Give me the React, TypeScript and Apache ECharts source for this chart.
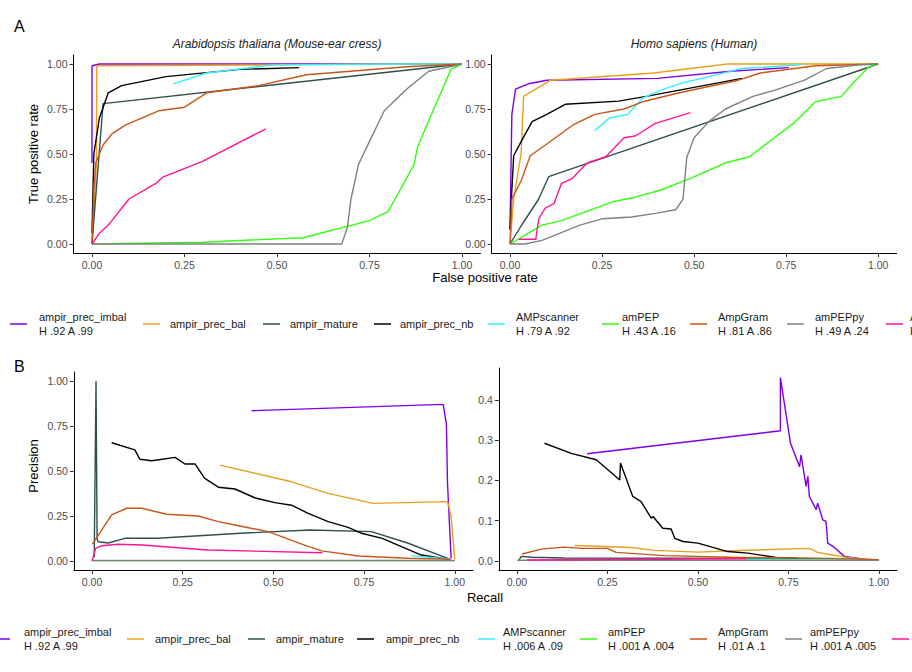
import React, { useEffect, useRef } from "react";
import * as echarts from "echarts";

const methods = ["ampir_prec_imbal", "ampir_prec_bal", "ampir_mature", "ampir_prec_nb", "AMPscanner", "amPEP", "AmpGram", "amPEPpy", "AMPlify"];
const colors = ["#7f00e6", "#e8a020", "#2f4f4f", "#000000", "#33f0ff", "#33ff10", "#c8561a", "#808080", "#ff1493"];
const rocLegendSub = ["H .92 A .99", "", "", "", "H .79 A .92", "H .43 A .16", "H .81 A .86", "H .49 A .24", "H .66 A .53"];
const prLegendSub = ["H .92 A .99", "", "", "", "H .006 A .09", "H .001 A .004", "H .01 A .1", "H .001 A .005", "H .002 A .05"];

// ROC Arabidopsis [fpr, tpr]
const rocA: number[][][] = [
  [[0, 0.45], [0, 0.99], [0.02, 1], [0.5, 1], [1, 1]],
  [[0, 0], [0.012, 0.45], [0.013, 0.99], [0.5, 0.995], [0.9, 1], [1, 1]],
  [[0, 0], [0.03, 0.78], [1, 1]],
  [[0, 0.06], [0.005, 0.5], [0.02, 0.7], [0.044, 0.84], [0.08, 0.88], [0.2, 0.93], [0.4, 0.97], [0.56, 0.98]],
  [[0.22, 0.89], [0.31, 0.95], [0.49, 0.995], [0.85, 1], [1, 1]],
  [[0, 0], [0.3, 0.01], [0.57, 0.035], [0.75, 0.13], [0.8, 0.18], [0.83, 0.29], [0.87, 0.44], [0.88, 0.54], [0.97, 0.97], [1, 1]],
  [[0, 0], [0.005, 0.3], [0.01, 0.45], [0.03, 0.55], [0.053, 0.61], [0.09, 0.66], [0.18, 0.74], [0.25, 0.76], [0.31, 0.84], [0.45, 0.88], [0.58, 0.94], [0.85, 0.985], [1, 1]],
  [[0, 0], [0.675, 0.0], [0.69, 0.09], [0.7, 0.25], [0.72, 0.44], [0.75, 0.57], [0.79, 0.74], [0.85, 0.86], [0.91, 0.96], [0.98, 0.99], [1, 1]],
  [[0, 0], [0.02, 0.06], [0.044, 0.105], [0.1, 0.25], [0.175, 0.34], [0.19, 0.37], [0.3, 0.46], [0.47, 0.64]],
];

// ROC Homo sapiens
const rocH: number[][][] = [
  [[0, 0.08], [0.005, 0.72], [0.015, 0.86], [0.05, 0.89], [0.1, 0.91], [0.4, 0.92], [0.6, 0.96], [0.757, 0.98]],
  [[0, 0], [0.01, 0.25], [0.03, 0.5], [0.037, 0.82], [0.11, 0.91], [0.39, 0.95], [0.59, 1.0], [1, 1]],
  [[0, 0], [0.03, 0.1], [0.078, 0.25], [0.105, 0.374], [1, 1]],
  [[0, 0.08], [0.005, 0.3], [0.01, 0.49], [0.033, 0.58], [0.06, 0.68], [0.1, 0.72], [0.15, 0.776], [0.295, 0.794], [0.37, 0.82], [0.63, 0.92]],
  [[0.23, 0.63], [0.27, 0.7], [0.32, 0.72], [0.36, 0.81], [0.41, 0.855], [0.46, 0.89], [0.54, 0.93], [0.63, 0.975], [0.79, 0.995]],
  [[0, 0], [0.033, 0.04], [0.087, 0.105], [0.14, 0.13], [0.28, 0.235], [0.34, 0.26], [0.41, 0.3], [0.49, 0.365], [0.585, 0.45], [0.65, 0.485], [0.77, 0.67], [0.83, 0.79], [0.9, 0.82], [0.93, 0.89], [0.975, 0.985], [1, 1]],
  [[0, 0], [0.005, 0.25], [0.03, 0.35], [0.055, 0.49], [0.096, 0.55], [0.17, 0.66], [0.23, 0.72], [0.31, 0.75], [0.36, 0.79], [0.46, 0.84], [0.62, 0.91], [0.68, 0.95], [0.83, 0.99], [1, 1]],
  [[0, 0], [0.04, 0], [0.087, 0.02], [0.19, 0.105], [0.25, 0.14], [0.33, 0.15], [0.395, 0.17], [0.45, 0.19], [0.47, 0.25], [0.48, 0.48], [0.5, 0.59], [0.54, 0.68], [0.585, 0.75], [0.66, 0.82], [0.72, 0.855], [0.8, 0.91], [0.86, 0.975], [0.95, 0.995], [1, 1]],
  [[0.024, 0.026], [0.07, 0.026], [0.078, 0.14], [0.096, 0.2], [0.12, 0.226], [0.14, 0.337], [0.17, 0.365], [0.19, 0.41], [0.21, 0.45], [0.26, 0.485], [0.31, 0.59], [0.34, 0.6], [0.395, 0.67], [0.49, 0.73]],
];

// Precision-recall Arabidopsis [recall, precision]
const prA: number[][][] = [
  [[0.44, 0.835], [0.968, 0.87], [0.977, 0.76], [0.98, 0.43], [0.99, 0.015]],
  [[0.353, 0.533], [0.55, 0.44], [0.65, 0.376], [0.775, 0.32], [0.98, 0.33], [0.99, 0.25], [1, 0.01]],
  [[0.006, 0.02], [0.011, 1.0], [0.014, 0.12], [0.017, 0.107], [0.045, 0.1], [0.09, 0.126], [0.18, 0.126], [0.41, 0.154], [0.6, 0.172], [0.77, 0.163], [0.87, 0.1], [0.986, 0.01]],
  [[0.054, 0.657], [0.118, 0.617], [0.132, 0.565], [0.165, 0.557], [0.229, 0.576], [0.256, 0.539], [0.284, 0.539], [0.31, 0.46], [0.348, 0.41], [0.394, 0.4], [0.45, 0.35], [0.504, 0.324], [0.55, 0.31], [0.596, 0.265], [0.651, 0.219], [0.706, 0.187], [0.743, 0.154], [0.8, 0.126], [0.853, 0.08], [0.908, 0.033], [0.98, 0.01]],
  [[0.88, 0.03], [0.99, 0.01]],
  [[0, 0.002], [1, 0.002]],
  [[0.001, 0.094], [0.054, 0.256], [0.095, 0.293], [0.137, 0.293], [0.206, 0.26], [0.293, 0.25], [0.348, 0.219], [0.394, 0.2], [0.486, 0.163], [0.578, 0.094], [0.633, 0.056], [0.734, 0.028], [0.87, 0.015], [0.99, 0.01]],
  [[0, 0.003], [1, 0.003]],
  [[0, 0], [0.01, 0.07], [0.027, 0.085], [0.073, 0.093], [0.137, 0.089], [0.32, 0.061], [0.635, 0.046]],
];

// Precision-recall Homo sapiens
const prH: number[][][] = [
  [[0.194, 0.266], [0.728, 0.323], [0.728, 0.455], [0.756, 0.292], [0.781, 0.234], [0.785, 0.263], [0.799, 0.185], [0.804, 0.21], [0.808, 0.16], [0.827, 0.127], [0.831, 0.143], [0.845, 0.102], [0.854, 0.098], [0.859, 0.044], [0.873, 0.036], [0.905, 0.011], [0.96, 0.004]],
  [[0.16, 0.038], [0.316, 0.033], [0.38, 0.026], [0.5, 0.0215], [0.592, 0.025], [0.808, 0.031], [0.831, 0.021], [0.868, 0.015], [0.914, 0.008], [1, 0.002]],
  [[0.005, 0.001], [0.012, 0.011], [0.04, 0.009], [0.13, 0.007], [0.78, 0.006], [1, 0.002]],
  [[0.076, 0.292], [0.15, 0.267], [0.219, 0.251], [0.284, 0.201], [0.286, 0.243], [0.32, 0.16], [0.343, 0.147], [0.371, 0.106], [0.376, 0.11], [0.403, 0.081], [0.426, 0.079], [0.436, 0.056], [0.459, 0.048], [0.5, 0.044], [0.582, 0.023], [0.638, 0.019], [0.72, 0.008], [0.776, 0.006]],
  [[0.634, 0.004], [1, 0.003]],
  [[0, 0.001], [1, 0.001]],
  [[0.014, 0.017], [0.067, 0.029], [0.13, 0.034], [0.178, 0.031], [0.25, 0.031], [0.274, 0.021], [0.408, 0.013], [0.592, 0.009], [0.868, 0.006], [1, 0.0025]],
  [[0, 0.001], [1, 0.001]],
  [[0.026, 0.002], [0.634, 0.005]],
];

const xTicks = [0, 0.25, 0.5, 0.75, 1];
const yTicks = [0, 0.25, 0.5, 0.75, 1];
const yTicksPrH = [0, 0.1, 0.2, 0.3, 0.4];

const FONT = "Liberation Sans, Arial, sans-serif";

export default function App() {
  const ref = useRef<HTMLDivElement>(null);
  useEffect(() => {
    const chart = echarts.init(ref.current!, undefined, { renderer: "svg" });
    const grids = [
      { left: 73.5, top: 55, width: 407, height: 198 },
      { left: 491.6, top: 55, width: 405, height: 198 },
      { left: 73.9, top: 372, width: 399, height: 198 },
      { left: 498.9, top: 368, width: 398, height: 202 },
    ];
    const axLine = { show: true, lineStyle: { color: "#000", width: 1 } };
    const lab = { color: "#4d4d4d", fontSize: 10.5, fontFamily: FONT };
    const xAxis = grids.map((_, i) => ({
      type: "value", gridIndex: i, min: -0.05, max: 1.05, splitLine: { show: false },
      axisLine: { ...axLine, onZero: false },
      axisTick: { show: true, customValues: xTicks, length: 4, lineStyle: { color: "#333" } },
      axisLabel: { ...lab, customValues: xTicks, formatter: (v: number) => v.toFixed(2), margin: 6 },
    }));
    const yAxis = grids.map((_, i) => {
      const ticks = i === 3 ? yTicksPrH : yTicks;
      return {
        type: "value", gridIndex: i,
        min: i === 3 ? -0.0228 : -0.05, max: i === 3 ? 0.479 : 1.05,
        splitLine: { show: false },
        axisLine: { ...axLine, onZero: false },
        axisTick: { show: true, customValues: ticks, length: 4, lineStyle: { color: "#333" } },
        axisLabel: { ...lab, customValues: ticks, formatter: (v: number) => (i === 3 ? v.toFixed(1) : v.toFixed(2)), margin: 6 },
      };
    });
    const series: any[] = [];
    [rocA, rocH, prA, prH].forEach((panel, gi) => {
      panel.forEach((d, mi) => {
        series.push({
          type: "line", name: methods[mi], data: d, xAxisIndex: gi, yAxisIndex: gi,
          showSymbol: false, symbol: "none", lineStyle: { color: colors[mi], width: 1.4 },
          itemStyle: { color: colors[mi] }, silent: true,
        });
      });
    });

    const txt = (x: number, y: number, text: string, extra: any = {}) => ({
      type: "text", x, y, style: { text, fill: "#000", font: `13px ${FONT}`, ...extra },
    });
    const legendSet = (rowY: number, symX: number[], textX: number[], subs: string[]) => {
      const els: any[] = [];
      methods.forEach((m, i) => {
        els.push({ type: "line", shape: { x1: symX[i], y1: rowY, x2: symX[i] + 17, y2: rowY }, style: { stroke: colors[i], lineWidth: 1.5 } });
        if (subs[i]) {
          els.push(txt(textX[i], rowY - 7, m, { font: `11px ${FONT}`, fill: "#1a1a1a", verticalAlign: "middle" }));
          els.push(txt(textX[i], rowY + 7, subs[i], { font: `11px ${FONT}`, fill: "#1a1a1a", verticalAlign: "middle" }));
        } else {
          els.push(txt(textX[i], rowY, m, { font: `11px ${FONT}`, fill: "#1a1a1a", verticalAlign: "middle" }));
        }
      });
      return els;
    };
    const graphic: any[] = [
      txt(14, 26, "A", { font: `16px ${FONT}`, verticalAlign: "middle" }),
      txt(14, 366, "B", { font: `16px ${FONT}`, verticalAlign: "middle" }),
      txt(277, 44, "Arabidopsis thaliana (Mouse-ear cress)", { font: `italic 12px ${FONT}`, align: "center", verticalAlign: "middle", fill: "#1a1a1a" }),
      txt(694, 44, "Homo sapiens (Human)", { font: `italic 12px ${FONT}`, align: "center", verticalAlign: "middle", fill: "#1a1a1a" }),
      txt(485, 277, "False positive rate", { align: "center", verticalAlign: "middle" }),
      txt(485, 597, "Recall", { align: "center", verticalAlign: "middle" }),
      { type: "text", x: 33, y: 154, rotation: Math.PI / 2, style: { text: "True positive rate", fill: "#000", font: `13px ${FONT}`, align: "center", verticalAlign: "middle" } },
      { type: "text", x: 33, y: 466, rotation: Math.PI / 2, style: { text: "Precision", fill: "#000", font: `13px ${FONT}`, align: "center", verticalAlign: "middle" } },
      ...legendSet(324, [10, 143, 263, 374, 488, 602, 690, 787, 886], [39, 170, 290, 400, 516, 622, 718, 815, 910], rocLegendSub),
      ...legendSet(639, [-7, 127, 248, 357, 478, 580, 690, 785, 892], [24, 155, 276, 386, 503, 608, 718, 810, 916], prLegendSub),
    ];

    chart.setOption({
      animation: false,
      backgroundColor: "#fff",
      grid: grids,
      xAxis, yAxis, series, graphic,
    });
    return () => chart.dispose();
  }, []);
  return <div ref={ref} style={{ width: 912, height: 672, position: "absolute", left: 0, top: 0 }} />;
}
